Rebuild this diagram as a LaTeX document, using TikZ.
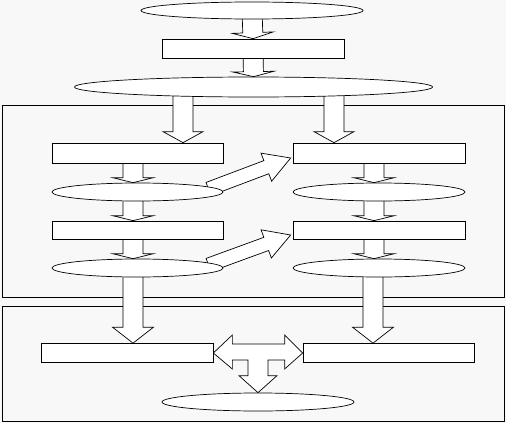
\documentclass[tikz,border=0pt]{standalone}
\usetikzlibrary{shapes.geometric,calc}
\definecolor{pagebg}{RGB}{248,248,248}
\pgfdeclarelayer{back}
\pgfdeclarelayer{mid}
\pgfsetlayers{back,mid,main}
\tikzset{
  box/.style={rectangle, draw=black, fill=white, line width=0.7pt, inner sep=0pt},
  oval/.style={ellipse, draw=black, fill=white, line width=0.7pt, inner sep=0pt},
  blk/.style={draw=black, fill=white, line width=0.7pt, line join=miter},
  frame/.style={draw=black, line width=0.8pt},
}
% block arrow: tail, tip, shaft half width, head half width, head length
\newcommand{\barrow}[5]{%
  \coordinate (ha) at ($(#2)!#5!(#1)$);
  \filldraw[blk] ($(#1)!#3!90:(#2)$) -- ($(ha)!#3!90:(#2)$) -- ($(ha)!#4!90:(#2)$) -- (#2)
    -- ($(ha)!#4!-90:(#2)$) -- ($(ha)!#3!-90:(#2)$) -- ($(#1)!#3!-90:(#2)$) -- cycle;}

\begin{document}
\begin{tikzpicture}[x=1pt, y=-1pt]
    \useasboundingbox (0,0) rectangle (506,423);
    \begin{pgfonlayer}{back}
        \fill[pagebg] (0,0) rectangle (506,423);
        \draw[frame] (2,105) rectangle (504,297);
        \draw[frame] (2,306) rectangle (504,421);
    \end{pgfonlayer}

    \node[oval, minimum width=222pt, minimum height=17pt] (e0) at (252,10.5) {};
    \node[box, minimum width=182pt, minimum height=19pt] (r0) at (253,48.5) {};
    \node[oval, minimum width=358pt, minimum height=20pt] (e1) at (253.5,87) {};

    \node[box, minimum width=171pt, minimum height=20pt] (rl1) at (137.5,153) {};
    \node[oval, minimum width=171pt, minimum height=18pt] (el1) at (137.5,192) {};
    \node[box, minimum width=171pt, minimum height=18pt] (rl2) at (137.5,230) {};
    \node[oval, minimum width=171pt, minimum height=18pt] (el2) at (137.5,268) {};

    \node[box, minimum width=172pt, minimum height=20pt] (rr1) at (379,153) {};
    \node[oval, minimum width=172pt, minimum height=18pt] (er1) at (379,192) {};
    \node[box, minimum width=172pt, minimum height=18pt] (rr2) at (379,230) {};
    \node[oval, minimum width=172pt, minimum height=18pt] (er2) at (379,268) {};

    \node[box, minimum width=172pt, minimum height=19pt] (bl) at (127,353) {};
    \node[box, minimum width=171pt, minimum height=19pt] (br) at (388.5,353) {};
    \node[oval, minimum width=192pt, minimum height=18pt] (eb) at (258,402) {};

    \begin{pgfonlayer}{mid}
        \barrow{e0.center}{r0.north}{10pt}{20.5pt}{6pt}
        \barrow{r0.center}{e1.north}{10pt}{20.5pt}{5pt}

        \coordinate (p1) at (183,0 |- e1.center);
        \coordinate (q1) at (183,0 |- rl1.north);
        \coordinate (p2) at (334,0 |- e1.center);
        \coordinate (q2) at (334,0 |- rr1.north);
        \barrow{p1}{q1}{10pt}{20pt}{11pt}
        \barrow{p2}{q2}{10pt}{20pt}{11pt}

        \coordinate (l1) at (133,0 |- rl1.center);
        \coordinate (l2) at (133,0 |- el1.north);
        \coordinate (l3) at (133,0 |- el1.center);
        \coordinate (l4) at (133,0 |- rl2.north);
        \coordinate (l5) at (133,0 |- rl2.center);
        \coordinate (l6) at (133,0 |- el2.north);
        \coordinate (l7) at (133,0 |- el2.center);
        \coordinate (l8) at (133,0 |- bl.north);
        \barrow{l1}{l2}{10pt}{20.5pt}{5pt}
        \barrow{l3}{l4}{10pt}{20.5pt}{5pt}
        \barrow{l5}{l6}{10pt}{20.5pt}{5pt}
        \barrow{l7}{l8}{10pt}{20.5pt}{16pt}

        \coordinate (r1) at (374,0 |- rr1.center);
        \coordinate (r2) at (374,0 |- er1.north);
        \coordinate (r3) at (374,0 |- er1.center);
        \coordinate (r4) at (374,0 |- rr2.north);
        \coordinate (r5) at (374,0 |- rr2.center);
        \coordinate (r6) at (374,0 |- er2.north);
        \coordinate (r7) at (373,0 |- er2.center);
        \coordinate (r8) at (373,0 |- br.north);
        \barrow{r1}{r2}{10pt}{20.5pt}{5pt}
        \barrow{r3}{r4}{10pt}{20.5pt}{5pt}
        \barrow{r5}{r6}{10pt}{20.5pt}{5pt}
        \barrow{r7}{r8}{10pt}{20.5pt}{16pt}

        \coordinate (s1) at ($(el1.center)+(71,-3)$);
        \coordinate (t1) at ($(rr1.west)+(-2,5)$);
        \coordinate (s2) at ($(el2.center)+(71,-3)$);
        \coordinate (t2) at ($(rr2.west)+(-2,5)$);
        \barrow{s1}{t1}{7pt}{15pt}{26pt}
        \barrow{s2}{t2}{7pt}{15pt}{26pt}

        \filldraw[blk] (bl.east) -- ($(bl.east)+(19,-18)$) -- ($(bl.east)+(19,-9)$)
            -- ($(br.west)+(-18,-9)$) -- ($(br.west)+(-18,-18)$) -- (br.west)
            -- ($(br.west)+(-18,16)$) -- ($(br.west)+(-18,7)$)
            -- ($(eb.north |- bl.east)+(10,7)$) -- ($(eb.north)+(10,-17)$)
            -- ($(eb.north)+(19,-17)$) -- (eb.north) -- ($(eb.north)+(-19,-17)$)
            -- ($(eb.north)+(-10,-17)$) -- ($(eb.north |- bl.east)+(-10,7)$)
            -- ($(bl.east)+(19,7)$) -- ($(bl.east)+(19,16)$) -- cycle;
    \end{pgfonlayer}
\end{tikzpicture}
\end{document}
